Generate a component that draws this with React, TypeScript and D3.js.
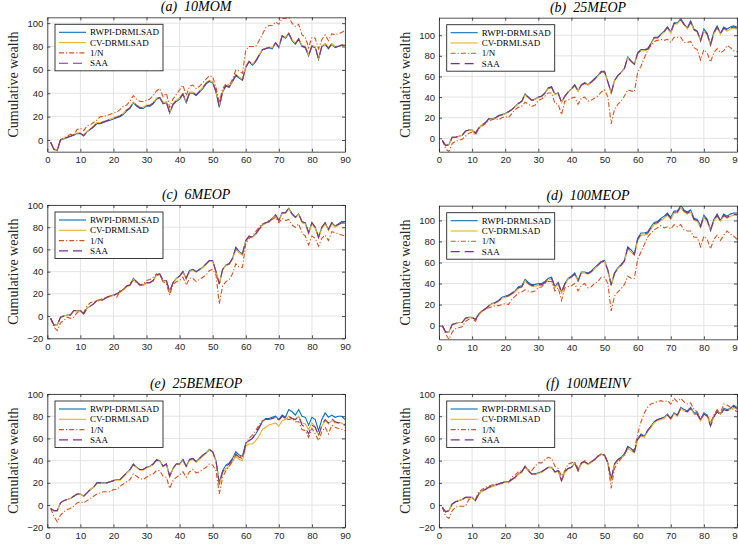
import React, { useEffect, useRef } from 'react';
import * as d3 from 'd3';

// series names and colours (MATLAB defaults)
const seriesNames = ['RWPI-DRMLSAD', 'CV-DRMLSAD', '1/N', 'SAA'];
const seriesColors = ['#0072BD', '#EDB120', '#D95319', '#7E2F8E'];
const seriesDash = ['none', 'none', '5,2,1.2,2', '9,5'];

const xTicks = [0, 10, 20, 30, 40, 50, 60, 70, 80, 90];

// (a) 10MOM
const aRwpi = [-2,-8,-9,0,1,2,3,4,5.5,5.5, 3.5,7,9,11,14,14,15,16,17,18, 19,20,22,25,27,32,29,27,27,29, 29,31,35,36,31,32,23,30,33,35, 39,32,40,40,38,41,44,48,50,49, 41,28,41,46,45,50,55,53,51,62, 67,64,67,72,77,78,79,78,83,79, 89,87,91,85,82,86,80,79,72,80, 79,69,80,82,78,82,79,80,81,81];
const aCv = [-2,-7.5,-8.5,0.5,1.5,2.5,3.5,5,6,6, 4,7.5,9.5,12,15,15,16,17,18,19, 20,21,23,26,28,32.5,30,28,28,30, 30,32,36,36.5,32,33,24,31,34,36, 40,33,41,41,39,42,45,49,51,50, 42,29,42,47,46,51,56,54,52,63, 67.5,65,68,73,77.5,78.5,79.5,79,83.5,80, 89.5,88,91.5,86,83,87,81,80,73,81, 80,70,80.5,82.5,79,82.5,80,80.5,81.5,81.5];
const aEw = [-2,-8,-9,0,2,3,5,4,9,10, 8,12,13,15,17,20,20,21,22,23, 24,26,29,30,33,38,35,33,33,34, 35,38,42,44,37,40,28,35,39,43, 47,38,46,47,44,46,49,52,55,54, 45,32,44,48,47,52,60,59,57,77, 80,80,80,85,90,96,98,98,101,99, 104,104,105,100,97,99,90,88,79,88, 87,78,86,90,85,91,90,91,92,94];
const aSaa = [-2,-8,-9,0.3,1.2,2.3,3.2,4.5,5.8,5.8, 3.8,7.3,9.3,11.5,14.5,14.5,15.5,16.5,17.5,18.5, 19.5,20.5,22.5,25.5,27.5,32.3,29.5,27.5,27.5,29.5, 29.5,31.5,35.5,36.3,31.5,32.5,23.5,30.5,33.5,35.5, 39.5,32.5,40.5,40.5,38.5,41.5,44.5,48.5,50.5,49.5, 41.5,28.5,41.5,46.5,45.5,50.5,55.5,53.5,51.5,62.5, 67.2,64.5,67.5,72.5,77.2,78.2,79.2,78.5,83.2,79.5, 89.2,87.5,91.2,85.5,82.5,86.5,80.5,79.5,72.5,80.5, 79.5,69.5,80.2,82.2,78.5,82.2,79.5,80.2,81.2,81.2];

// (b) 25MEOP
const bRwpi = [-2,-7,-6,1,1,2,3,7,8,8, 5,10,13,15,19,19,20,22,23,24, 26,28,31,34,36,43,40,37,38,40, 41,44,49,50,43,44,35,41,45,48, 52,46,52,54,52,55,58,61,65,65, 55,44,56,61,64,68,79,75,72,83, 86,86,87,92,98,98,101,104,108,103, 112,112,116,111,107,114,106,104,95,106, 102,91,103,109,102,108,106,108,109,108];
const bCv = [-2,-7,-6,1,1,2,3,7,7.5,7.5, 5,10,13,15,18.5,18.5,19.5,21.5,22.5,23.5, 25.5,27.5,30.5,33.5,35.5,42,39.5,36.5,37.5,39.5, 40.5,43.5,48,49,42.5,43.5,34.5,40.5,44.5,47.5, 51,45.5,51.5,53,51.5,54,57,60,64,64, 54.5,43.5,55.5,60.5,63.5,67.5,78,74.5,71.5,82, 85,85,86,91,97,97,100,103,107,102, 111,111,115,110,106,112,105,103,94,104, 100,90,101,107,101,106,104,106,107,106];
const bEw = [-2,-10,-13,-5,-3,-2,-1,2,5,6, 3,9,12,14,17,18,19,18,20,21, 20,24,28,30,31,35,33,31,32,37, 38,41,44,44,34,33,23,36,37,39, 40,33,39,40,36,37,39,41,45,47, 40,14,28,33,36,41,47,46,45,64, 70,78,85,90,94,95,96,95,96,93, 98,98,98,93,93,94,88,86,76,86, 83,74,83,87,83,85,90,88,85,84];
const bSaa = [-2,-7,-6,1,1,2,3,7,7.8,7.8, 5,10,13,15,18.8,18.8,19.8,21.8,22.8,23.8, 25.8,27.8,30.8,33.8,35.8,42.5,39.8,36.8,37.8,39.8, 40.8,43.8,48.5,49.5,42.8,43.8,34.8,40.8,44.8,47.8, 51.5,45.8,51.8,53.5,51.8,54.5,57.5,60.5,64.5,64.5, 54.8,43.8,55.8,60.8,63.8,67.8,78.5,74.8,71.8,82.5, 85.5,85.5,86.5,91.5,97.5,97.5,100.5,103.5,107.5,102.5, 111.5,111.5,115,110.5,106.5,113,105.5,103.5,94.5,105, 101,90.5,102,108,101.5,107,105,107,108,107];

// (c) 6MEOP
const cRwpi = [-2,-8,-8,-1,0,1,1,5,5,5, 2,7,9,11,14,14,15,17,18,19, 20,22,24,27,28,34,31,28,28,30, 30,32,37,38,32,32,22,30,34,36, 40,34,41,42,40,42,44,47,50,50, 40,29,42,46,47,52,62,58,56,68, 72,71,74,78,82,84,85,88,91,86, 93,93,97,92,89,92,85,84,75,84, 80,71,80,84,78,84,81,83,85,85];
const cCv = [-2,-8,-8,-1,0,1,1,4.5,4.5,4.5, 2,7,9,11,13.5,14,15,16.5,17.5,18.5, 19.5,21.5,23.5,26.5,27.5,33,30.5,27.5,27.5,29.5, 29.5,31.5,36.5,37.5,31.5,31.5,21.5,29.5,33.5,35.5, 39,33.5,40,41,39.5,41.5,43.5,46.5,49.5,49, 39.5,28.5,41.5,45.5,46.5,51,60,57,55,67, 71,70.5,73.5,77.5,81.5,83.5,84.5,87.5,90,85.5, 92.5,92.5,96.5,91.5,88.5,91.5,84,83,74,83, 79,70,79,83,77,83,80,82,83.5,83.5];
const cEw = [-2,-10,-13,-6,-4,-1,-2,-1,3,5, 3,9,12,13,14,15,16,17,18,19, 17,23,24,27,29,32,30,28,29,32, 33,35,38,37,31,29,19,28,31,32, 35,28,34,34,31,33,35,37,41,42, 37,11,27,31,33,38,47,44,44,65, 70,72,76,80,83,84,86,87,89,84, 88,86,87,82,80,83,75,72,64,72, 70,63,70,73,68,76,75,74,73,72];
const cSaa = [-2,-8,-8,-1,0,1,1,5,5,5, 2,7,9,11,14,14,15,17,18,19, 20,22,24,27,28,33.5,31,28,28,30, 30,32,37,38,32,32,22,30,34,36, 40,34,41,42,40,42,44,47,50,50, 40,29,42,46,47,52,61.5,58,56,68, 72,71,74,78,82,84,85,88,91,86, 93,93,97,92,89,92,85,84,75,84, 80,71,80,84,78,84,81,82.5,84,84];

// (d) 100MEOP
const dRwpi = [0,-6,-6,1,2,3,3,7,8,8, 6,11,14,16,19,21,22,24,27,28, 29,31,33,37,38,44,41,39,39,40, 40,42,45,46,37,41,32,40,45,47, 50,43,51,51,50,52,55,58,61,62, 53,39,50,55,58,62,75,72,68,83, 88,88,89,94,98,99,102,104,107,103, 109,109,114,110,108,110,102,101,95,105, 101,91,101,106,100,106,104,106,107,107];
const dCv = [0,-6,-6,1,2,3,3,7,7.5,7.5, 5.5,10.5,13.5,15.5,18.5,20.5,21.5,23,26,27, 28,30,32,35.5,36.5,42.5,39.5,37.5,37.5,38.5, 38.5,40.5,43.5,44.5,36,40,31,39,44,46, 48.5,42,50,50,49,51,54,57,60,61, 52,38,49,54,57,61,73,70,67,81, 86,86,87,92,96,97,100,102,105,101, 107,107,112,108,106,108,100,99,93,103, 99,90,99,104,99,104,102,104,105,105];
const dEw = [0,-8,-13,-6,-3,-2,-1,4,6,7, 4,11,14,16,17,18,19,19,20,21, 20,25,28,31,32,34,33,32,33,36, 37,40,42,42,33,36,24,36,37,38, 40,33,38,40,36,37,40,42,46,46, 40,14,28,32,35,39,47,45,45,63, 70,77,84,88,91,93,95,93,94,92, 96,94,96,91,90,90,84,84,75,85, 82,73,82,86,81,86,90,87,85,82];
const dSaa = [0,-6,-6,1,2,3,3,7,7.8,7.8, 5.8,10.8,13.8,15.8,18.8,20.8,21.8,23.5,26.5,27.5, 28.5,30.5,32.5,36,37,43,40,38,38,39, 39,41,44,45,36.5,40.5,31.5,39.5,44.5,46.5, 49,42.5,50.5,50.5,49.5,51.5,54.5,57.5,60.5,61.5, 52.5,38.5,49.5,54.5,57.5,61.5,74,71,67.5,82, 87,87,88,93,97,98,101,103,106,102, 108,108,113,109,107,109,101,100,94,104, 100,90.5,100,105,99.5,105,103,105,106,105.5];

// (e) 25BEMEOP
const eRwpi = [-3,-5,-5,2,4,5,6,8,10,10, 8,11,14,16,20,20,20,20,21,22, 23,23,26,29,32,37,34,32,32,34, 35,37,41,40,35,37,26,33,37,37, 41,35,41,42,39,42,45,47,50,48, 40,20,31,36,38,42,48,45,44,56, 58,60,64,69,75,78,78,79,80,77, 81,79,86,84,81,86,80,79,72,79, 77,67,77,83,79,81,79,80,80,77];
const eCv = [-3,-5,-5,2,4,5,6,8,10,10, 8,11,14,16,19.5,19.5,19.5,20,21,22, 22.5,22.5,25.5,28.5,31.5,36.5,33.5,31.5,31.5,33.5, 34.5,36.5,40,39.5,34.5,36.5,25.5,32.5,36.5,36.5, 40,34.5,40,41,38.5,41,44,46.5,49.5,47.5, 39,18,29,33,35,39,44,41,40,53, 55,55,58,62,68,70,72,73,74,71, 76,77,80,78,77,80,74,73,68,74, 71,63,71,76,73,76,74,74,74,71];
const eEw = [-3,-10,-15,-9,-6,-4,-3,-1,2,3, 2,4,6,8,10,11,12,12,12,14, 14,17,19,21,23,28,26,24,23,25, 27,28,31,31,26,25,15,22,25,27, 30,25,30,32,29,30,32,34,37,36, 31,10,25,31,35,40,45,44,43,55, 60,63,67,72,76,77,77,78,79,76, 80,78,77,78,75,75,68,67,61,69, 64,58,66,70,64,72,70,69,68,67];
const eSaa = [-3,-5,-5,2,4,5,6,8,10,10, 8,11,14,16,20,20,20,20,21,22, 23,23,26,29,32,36.5,34,32,32,34, 35,37,40.5,40,35,37,26,33,37,37, 41,35,41,42,39,42,45,47,50,48, 40,19,30,35,37,41,46,43,42,54, 58,60,65,70,75,77,77,78,79,77, 80,78,80,78,77,80,72,70,64,72, 70,62,72,77,74,78,75,74,75,72];

// (f) 100MEINV
const fRwpi = [-2,-6,-5,1,3,4,5,7,7,7, 4,10,13,14,16,17,18,19,20,21, 21,23,25,28,30,35,31,28,28,29, 30,32,34,34,30,31,22,30,33,34, 38,31,38,39,37,39,41,44,46,45, 38,23,37,41,43,46,53,51,48,60, 64,62,67,71,75,77,78,79,82,78, 83,81,88,86,85,88,83,83,77,83, 81,72,80,85,82,87,86,87,90,88];
const fCv = [-2,-6,-5,1,3,4,5,6.5,6.5,6.5, 4,9.5,12.5,13.5,15.5,16.5,17.5,18.5,19.5,20.5, 20.5,22.5,24.5,27.5,29.5,34.5,30.5,27.5,27.5,28.5, 29.5,31.5,33.5,33.5,29.5,30.5,21.5,29.5,32.5,33.5, 37.5,30.5,37.5,38.5,36.5,38.5,40.5,43.5,45.5,44.5, 37.5,22,36,40,42,45,51,49,47,59, 62,61,66,70,74,76,77,78,81,77, 82,80,87,85,84,87,82,82,76,82, 80,73,80,84,82,86,85,86,88,86];
const fEw = [-2,-10,-12,-5,-2,-1,-1,-1,5,6, 5,12,14,16,17,18,19,19,20,21, 20,25,27,30,31,34,32,31,35,38, 38,41,43,42,35,33,26,31,37,38, 39,33,38,40,37,39,41,44,46,45, 38,15,33,38,42,45,52,50,50,64, 75,83,88,91,92,93,94,93,94,91, 96,93,96,93,91,92,86,84,77,82, 81,74,81,86,83,91,90,88,86,84];
const fSaa = [-2,-6,-5,1,3,4,5,7,7,7, 4,10,13,14,16,17,18,19,20,21, 21,23,25,28,30,35,31,28,28,29, 30,32,34,34,30,31,22,30,33,34, 38,31,38,39,37,39,41,44,46,45, 38,23,37,41,43,46,52,50,48,59, 63,62,67,71,75,77,78,79,81,78, 83,81,87,85,84,87,82,82,76,82, 80,71,79,84,81,86,85,86,89,87];

const panels = [
  { tag: 'a', name: '10MOM', col: 0, top: 17.3, bottom: 151.7, yDomain: [-10, 105], data: [aRwpi, aCv, aEw, aSaa] },
  { tag: 'b', name: '25MEOP', col: 1, top: 17.7, bottom: 151.7, yDomain: [-13, 117], data: [bRwpi, bCv, bEw, bSaa] },
  { tag: 'c', name: '6MEOP', col: 0, top: 205, bottom: 338.3, yDomain: [-20, 100], data: [cRwpi, cCv, cEw, cSaa] },
  { tag: 'd', name: '100MEOP', col: 1, top: 205.7, bottom: 339.3, yDomain: [-13, 114], data: [dRwpi, dCv, dEw, dSaa] },
  { tag: 'e', name: '25BEMEOP', col: 0, top: 394, bottom: 527.3, yDomain: [-20, 100], data: [eRwpi, eCv, eEw, eSaa] },
  { tag: 'f', name: '100MEINV', col: 1, top: 394, bottom: 527.3, yDomain: [-20, 100], data: [fRwpi, fCv, fEw, fSaa] },
];

const colX = [[47.3, 345], [439, 737]];

export default function App() {
  const ref = useRef<SVGSVGElement>(null);

  useEffect(() => {
    const svg = d3.select(ref.current);
    svg.selectAll('*').remove();

    const axisColor = '#262626';
    const gridColor = '#e3e3e3';

    panels.forEach((p) => {
      const [left, right] = colX[p.col];
      const x = d3.scaleLinear().domain([0, 90]).range([left, right]);
      const y = d3.scaleLinear().domain(p.yDomain).range([p.bottom, p.top]);
      const yTicks = y.ticks(6).filter((t) => t % 20 === 0);
      const g = svg.append('g');

      // white axes background
      g.append('rect').attr('x', left).attr('y', p.top)
        .attr('width', right - left).attr('height', p.bottom - p.top).attr('fill', 'white');

      // grid
      g.append('g').selectAll('line').data(xTicks).enter().append('line')
        .attr('x1', (d) => x(d)).attr('x2', (d) => x(d))
        .attr('y1', p.top).attr('y2', p.bottom)
        .attr('stroke', gridColor).attr('stroke-width', 1);
      g.append('g').selectAll('line').data(yTicks).enter().append('line')
        .attr('x1', left).attr('x2', right)
        .attr('y1', (d) => y(d)).attr('y2', (d) => y(d))
        .attr('stroke', gridColor).attr('stroke-width', 1);

      // lines, clipped to the axes
      const clipId = 'clip-' + p.tag;
      svg.append('clipPath').attr('id', clipId).append('rect')
        .attr('x', left).attr('y', p.top).attr('width', right - left).attr('height', p.bottom - p.top);
      const line = d3.line<number>().x((d, i) => x(i + 1)).y((d) => y(d));
      const lines = g.append('g').attr('clip-path', `url(#${clipId})`);
      p.data.forEach((vals, k) => {
        lines.append('path').datum(vals)
          .attr('d', line)
          .attr('fill', 'none')
          .attr('stroke', seriesColors[k])
          .attr('stroke-width', 1.1)
          .attr('stroke-dasharray', seriesDash[k]);
      });

      // axes box with inward ticks on all sides
      const h = p.bottom - p.top;
      const bottomAxis = g.append('g').attr('transform', `translate(0,${p.bottom})`)
        .call(d3.axisBottom(x).tickValues(xTicks).tickSize(-3).tickSizeOuter(0).tickPadding(5));
      const leftAxis = g.append('g').attr('transform', `translate(${left},0)`)
        .call(d3.axisLeft(y).tickValues(yTicks).tickSize(-3).tickSizeOuter(0).tickPadding(4));
      g.append('g').attr('transform', `translate(0,${p.top})`)
        .call(d3.axisTop(x).tickValues(xTicks).tickSize(-3).tickSizeOuter(0).tickFormat(() => ''));
      g.append('g').attr('transform', `translate(${right},0)`)
        .call(d3.axisRight(y).tickValues(yTicks).tickSize(-3).tickSizeOuter(0).tickFormat(() => ''));
      g.selectAll('.domain').attr('stroke', axisColor).attr('stroke-width', 0.8);
      g.selectAll('.tick line').attr('stroke', axisColor).attr('stroke-width', 0.8);
      [bottomAxis, leftAxis].forEach((a) => {
        a.attr('font-family', '"Liberation Sans", Arial, sans-serif').attr('font-size', 9.5);
        a.selectAll('text').attr('fill', axisColor);
      });

      // title
      const cx = (left + right) / 2;
      g.append('text')
        .attr('x', cx).attr('y', p.top - 6)
        .attr('text-anchor', 'middle')
        .attr('font-family', '"Liberation Serif", "Times New Roman", serif')
        .attr('font-style', 'italic')
        .attr('font-size', 14)
        .attr('fill', '#000')
        .text(`(${p.tag})\u2002${p.name}`);

      // y label
      g.append('text')
        .attr('transform', `translate(${left - 29},${p.top + h / 2}) rotate(-90)`)
        .attr('text-anchor', 'middle')
        .attr('font-family', '"Liberation Serif", "Times New Roman", serif')
        .attr('font-size', 14)
        .attr('fill', axisColor)
        .text('Cumulative wealth');

      // legend
      const lx = left + 7.7;
      const ly = p.top + 7;
      const lg = g.append('g');
      lg.append('rect').attr('x', lx).attr('y', ly).attr('width', 108).attr('height', 46.5)
        .attr('fill', 'white').attr('stroke', axisColor).attr('stroke-width', 0.9);
      seriesNames.forEach((name, k) => {
        const ry = ly + 8 + k * 10.3;
        lg.append('line').attr('x1', lx + 4).attr('x2', lx + 31).attr('y1', ry).attr('y2', ry)
          .attr('stroke', seriesColors[k]).attr('stroke-width', 1.1)
          .attr('stroke-dasharray', seriesDash[k]);
        lg.append('text').attr('x', lx + 35).attr('y', ry).attr('dy', '0.35em')
          .attr('font-family', '"Liberation Serif", "Times New Roman", serif')
          .attr('font-size', 9)
          .attr('fill', '#000')
          .text(name);
      });
    });
  }, []);

  return (
    <div style={{ position: 'absolute', left: 0, top: 0, width: 738, height: 550, background: 'white' }}>
      <svg ref={ref} width={738} height={550} />
    </div>
  );
}
